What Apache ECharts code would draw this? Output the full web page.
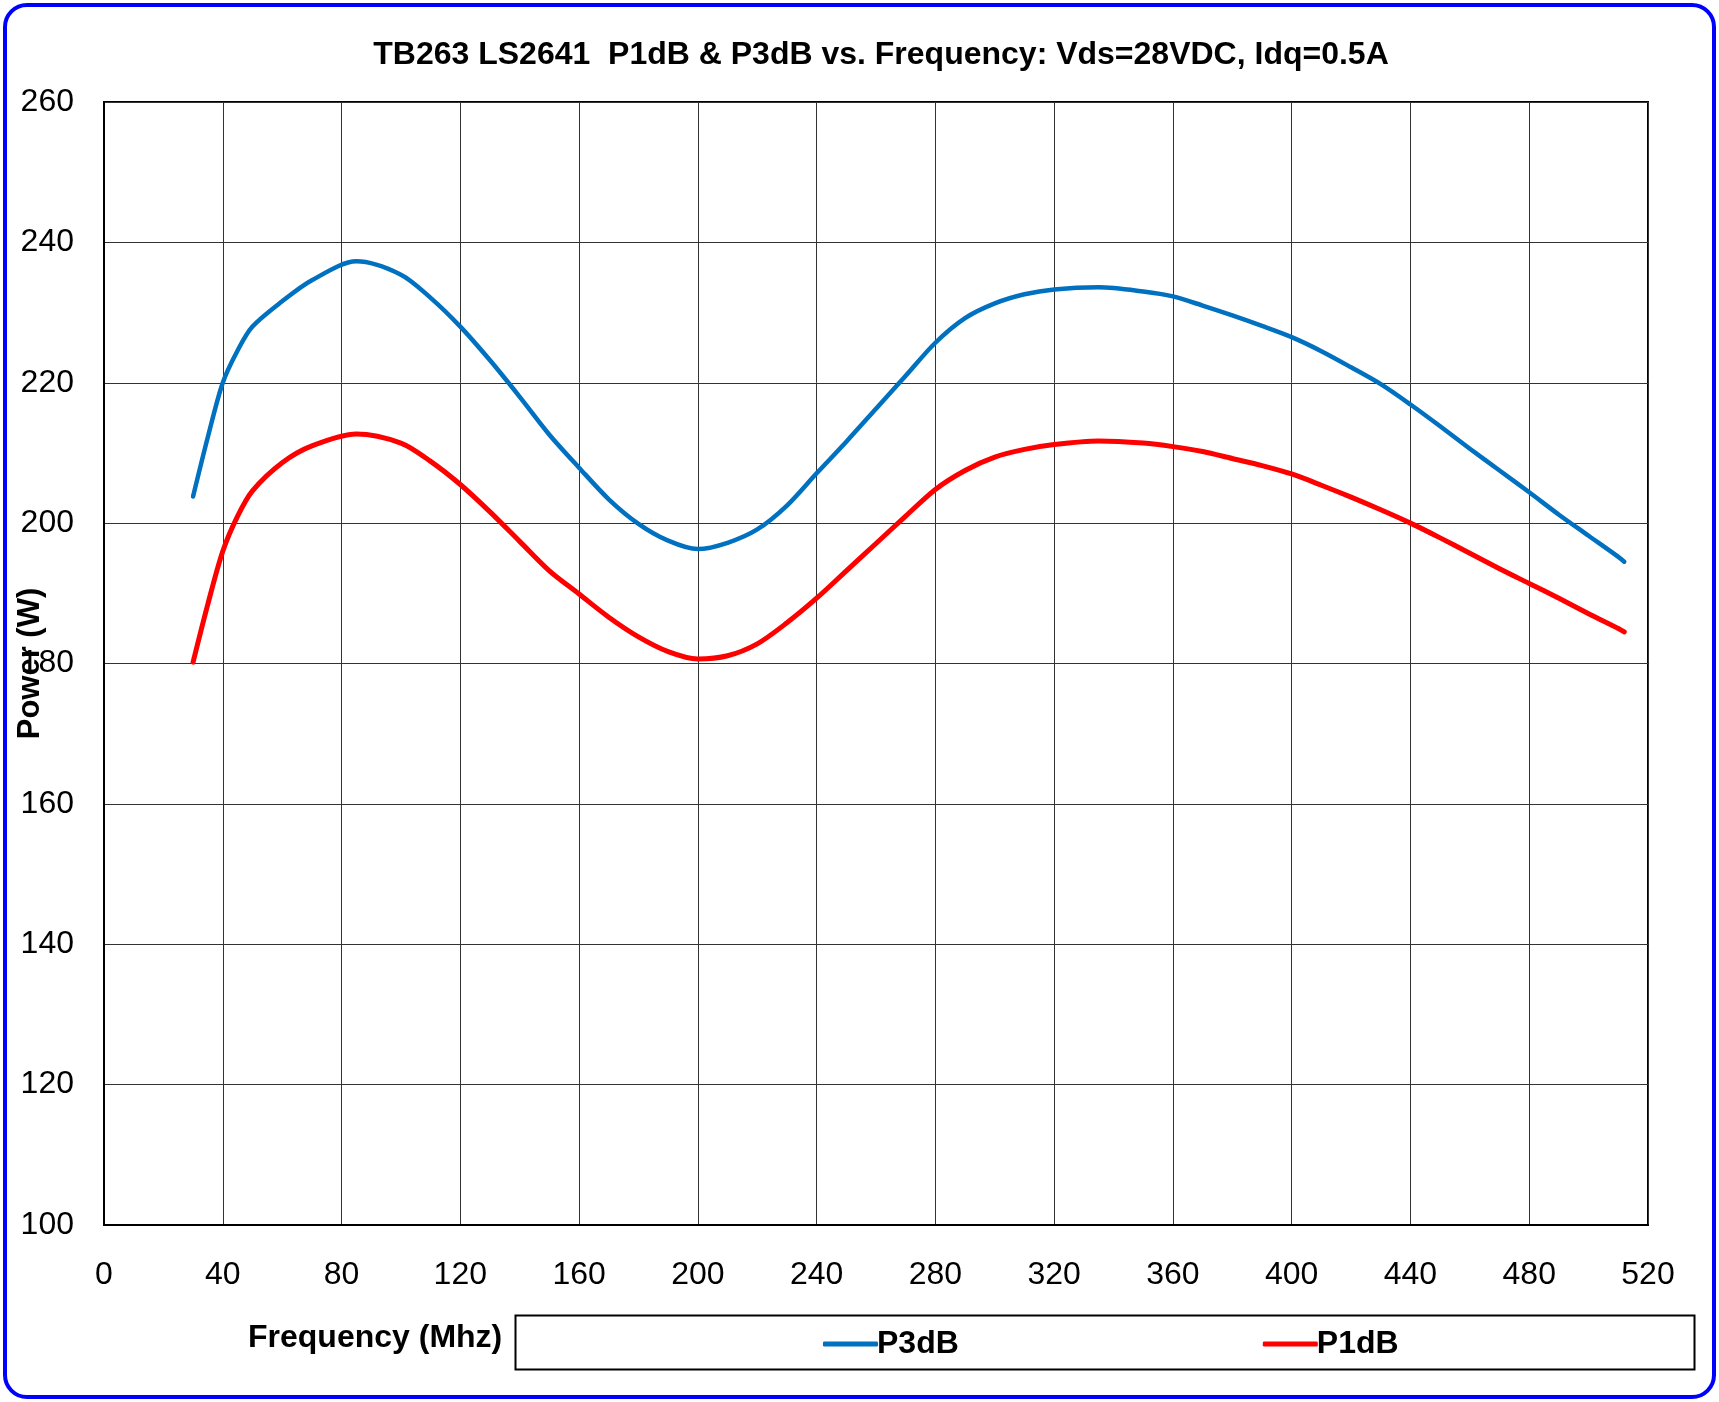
<!DOCTYPE html>
<html>
<head>
<meta charset="utf-8">
<script src="https://cdn.jsdelivr.net/npm/echarts@6/dist/echarts.min.js"></script>
<style>
html,body{margin:0;padding:0;background:#fff;}
#chart{width:1719px;height:1402px;}
</style>
</head>
<body>
<div id="chart"></div>
<script>
const titleText = 'TB263 LS2641  P1dB & P3dB vs. Frequency: Vds=28VDC, Idq=0.5A';
const xAxisName = 'Frequency (Mhz)';
const yAxisName = 'Power (W)';
const seriesNames = ['P3dB', 'P1dB'];
const freq = [30, 35, 40, 45, 50, 60, 70, 85, 100, 110, 120, 130, 140, 150, 160, 170, 180, 190, 200,
              210, 220, 230, 240, 250, 260, 270, 280, 290, 300, 310, 320, 335, 350, 360, 370, 380, 390, 400,
              410, 420, 430, 440, 450, 460, 470, 480, 490, 500, 510, 512];
const p3dB = [203.8, 212.3, 220.0, 224.6, 228.0, 231.6, 234.6, 237.3, 235.4, 232.1, 228.0, 223.2, 218.0, 212.6, 207.9, 203.4, 199.9, 197.5, 196.3,
              197.2, 199.1, 202.5, 207.1, 211.6, 216.3, 221.0, 225.7, 229.2, 231.3, 232.6, 233.3, 233.6, 233.0, 232.3, 231.0, 229.6, 228.1, 226.5,
              224.5, 222.2, 219.8, 216.9, 213.8, 210.6, 207.5, 204.4, 201.2, 198.2, 195.2, 194.5];
const p1dB = [180.2, 188.5, 196.0, 201.0, 204.6, 208.6, 211.0, 212.7, 211.4, 208.8, 205.5, 201.6, 197.4, 193.2, 189.9, 186.6, 183.8, 181.7, 180.65,
              181.1, 182.8, 185.8, 189.3, 193.2, 197.1, 201.0, 204.8, 207.5, 209.4, 210.5, 211.2, 211.7, 211.4, 210.9, 210.2, 209.2, 208.2, 207.0,
              205.4, 203.7, 201.9, 200.0, 197.9, 195.7, 193.5, 191.4, 189.3, 187.1, 185.0, 184.5];
const xTicks = [0, 40, 80, 120, 160, 200, 240, 280, 320, 360, 400, 440, 480, 520];
const yTicks = [100, 120, 140, 160, 180, 200, 220, 240, 260];

const FONT = '"Liberation Sans", Arial, sans-serif';
const chart = echarts.init(document.getElementById('chart'), null, {renderer: 'canvas'});
const pair = (xs, ys) => xs.map((x, i) => [x, ys[i]]);

chart.setOption({
  backgroundColor: '#fff',
  animation: false,
  title: {
    text: titleText,
    left: 876,
    textAlign: 'center',
    top: 34,
    textStyle: {fontFamily: FONT, fontSize: 32, fontWeight: 'bold', color: '#000'}
  },
  grid: {left: 104, right: 71, top: 102, bottom: 177, show: true, borderColor: '#000', borderWidth: 2,
         containLabel: false, outerBoundsMode: 'none'},
  legend: {
    left: 818,
    top: 1323,
    itemWidth: 55,
    itemHeight: 5,
    itemGap: 304,
    icon: 'roundRect',
    textStyle: {fontFamily: FONT, fontSize: 32, fontWeight: 'bold', color: '#000', padding: [0, 0, 0, -6]},
    data: seriesNames
  },
  xAxis: {
    type: 'value',
    min: xTicks[0],
    max: xTicks[xTicks.length - 1],
    interval: 40,
    axisLine: {show: true, lineStyle: {color: '#000', width: 2}},
    axisTick: {show: false},
    axisLabel: {fontFamily: FONT, fontSize: 32, color: '#000', margin: 34},
    splitLine: {show: true, lineStyle: {color: '#333', width: 1}}
  },
  yAxis: {
    type: 'value',
    min: yTicks[0],
    max: yTicks[yTicks.length - 1],
    interval: 20,
    name: yAxisName,
    nameLocation: 'middle',
    nameGap: 58,
    nameMoveOverlap: false,
    nameTextStyle: {fontFamily: FONT, fontSize: 31, fontWeight: 'bold', color: '#000', backgroundColor: '#fff'},
    axisLine: {show: true, lineStyle: {color: '#000', width: 2}},
    axisTick: {show: false},
    axisLabel: {fontFamily: FONT, fontSize: 32, color: '#000', margin: 30},
    splitLine: {show: true, lineStyle: {color: '#333', width: 1}}
  },
  graphic: [
    {type: 'rect', z: -1, shape: {x: 5, y: 5, width: 1709, height: 1392, r: 22}, style: {fill: 'none', stroke: '#0000ff', lineWidth: 4}},
    {type: 'rect', z: -1, shape: {x: 515.5, y: 1315.5, width: 1179, height: 54}, style: {fill: 'none', stroke: '#000', lineWidth: 2}},
    {type: 'text', left: 248, top: 1322, style: {text: xAxisName, fontFamily: FONT, fontSize: 32, fontWeight: 'bold', fill: '#000'}}
  ],
  series: [
    {name: seriesNames[0], type: 'line', data: pair(freq, p3dB), smooth: 0.3, showSymbol: false, symbol: 'none',
     lineStyle: {color: '#0070C0', width: 4.5, cap: 'round', join: 'round'}, itemStyle: {color: '#0070C0'}},
    {name: seriesNames[1], type: 'line', data: pair(freq, p1dB), smooth: 0.3, showSymbol: false, symbol: 'none',
     lineStyle: {color: '#FF0000', width: 5, cap: 'round', join: 'round'}, itemStyle: {color: '#FF0000'}}
  ]
});
</script>
</body>
</html>
